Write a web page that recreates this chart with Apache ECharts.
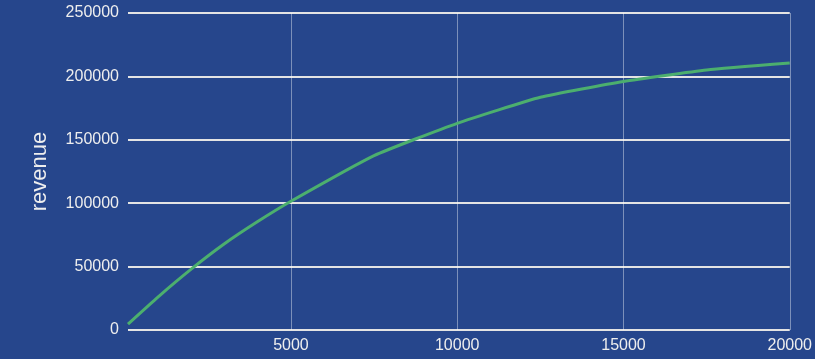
<!DOCTYPE html>
<html>
<head>
<meta charset="utf-8">
<script src="https://cdn.jsdelivr.net/npm/echarts@6/dist/echarts.min.js"></script>
<style>
  html, body { margin: 0; padding: 0; background: #26468c; }
  #chart { width: 815px; height: 359px; }
</style>
</head>
<body>
<div id="chart"></div>
<script>
// data
var units = [100, 1000, 2000, 3000, 4000, 5000, 7500, 10000, 12500, 15000, 17500, 20000];
var revenue = [4700, 26000, 48000, 68000, 85500, 101500, 137500, 163000, 183500, 196000, 205000, 210500];
var xTicks = [5000, 10000, 15000, 20000];

var points = units.map(function (u, i) {
    return [u, revenue[i]];
});

var plain = function (v) {
    return String(v);
};

var chart = echarts.init(document.getElementById('chart'));
chart.setOption({
    backgroundColor: '#26468c',
    animation: false,
    grid: {
        left: 128,
        right: 24,
        top: 13,
        bottom: 29
    },
    xAxis: {
        type: 'value',
        min: 100,
        max: 20000,
        axisLine: {show: false},
        axisTick: {show: false, customValues: xTicks},
        axisLabel: {
            customValues: xTicks,
            formatter: plain,
            color: '#eeeeee',
            fontSize: 16,
            fontFamily: 'Arial, Liberation Sans, sans-serif',
            margin: 8
        },
        splitLine: {
            show: true,
            lineStyle: {color: 'rgba(255,255,255,0.4)', width: 1}
        }
    },
    yAxis: {
        type: 'value',
        min: 0,
        max: 250000,
        interval: 50000,
        name: 'revenue',
        nameLocation: 'middle',
        nameGap: 77,
        nameTextStyle: {
            color: '#eeeeee',
            fontSize: 22,
            fontFamily: 'Arial, Liberation Sans, sans-serif'
        },
        axisLine: {show: false},
        axisTick: {show: false},
        axisLabel: {
            formatter: plain,
            color: '#eeeeee',
            fontSize: 16,
            fontFamily: 'Arial, Liberation Sans, sans-serif',
            margin: 9
        },
        splitLine: {
            lineStyle: {color: '#e4e4e4', width: 2}
        }
    },
    series: [{
        type: 'line',
        data: points,
        showSymbol: false,
        smooth: 0.15,
        lineStyle: {color: '#4caf6e', width: 3},
        itemStyle: {color: '#4caf6e'}
    }]
});
</script>
</body>
</html>
